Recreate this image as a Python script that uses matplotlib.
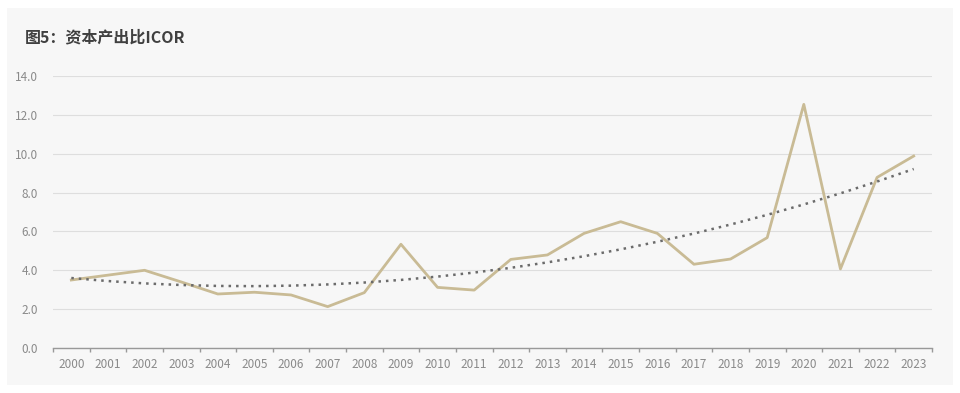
import numpy as np
import matplotlib.pyplot as plt
from matplotlib.patches import Rectangle

# ------------------------------
# DATA
# ------------------------------
years = [str(y) for y in range(2000, 2024)]
icor = [3.50, 3.75, 4.00, 3.40, 2.78, 2.87, 2.73, 2.13, 2.85, 5.34, 3.12, 2.98,
        4.56, 4.79, 5.90, 6.50, 5.90, 4.31, 4.58, 5.68, 12.54, 4.07, 8.78, 9.88]
yticks = [0, 2, 4, 6, 8, 10, 12, 14]

title = '图5：资本产出比ICOR'

# ------------------------------
# STYLE
# ------------------------------
plt.rcParams['font.family'] = ['Noto Sans CJK SC', 'DejaVu Sans']
line_color = '#c9bb95'
trend_color = '#6b6b6b'
grid_color = '#dedede'
tick_color = '#8a8a8a'

x = np.arange(len(years))
# Excel-style second order polynomial trendline
coef = np.polyfit(x, icor, 2)
trend = np.polyval(coef, x)

fig = plt.figure(figsize=(9.6, 3.93), dpi=100)
fig.patch.set_facecolor('white')
panel = Rectangle((7 / 960, 1 - 385 / 393), 946 / 960, 377 / 393,
                  transform=fig.transFigure, facecolor='#f7f7f7',
                  edgecolor='none', zorder=-10)
fig.add_artist(panel)

ax = fig.add_axes([53 / 960, 1 - 348 / 393, 879 / 960, 272 / 393])
ax.set_facecolor('none')

ax.plot(x, icor, color=line_color, linewidth=2.0, zorder=3)
ax.plot(x, trend, color=trend_color, linestyle=(0, (1, 2)), linewidth=1.8, zorder=4)

ax.set_ylim(0, 14)
ax.set_xlim(-0.5, len(years) - 0.5)
ax.set_yticks(yticks)
ax.set_yticklabels([f'{v:.1f}' for v in yticks])
ax.set_xticks(x)
ax.set_xticklabels(years)
ax.set_xticks(np.arange(-0.5, len(years)), minor=True)

ax.yaxis.grid(True, color=grid_color, linewidth=0.8)
ax.set_axisbelow(True)
for side in ['top', 'right', 'left']:
    ax.spines[side].set_visible(False)
ax.spines['bottom'].set_color('#999999')
ax.spines['bottom'].set_linewidth(1.0)

ax.tick_params(axis='y', length=0, labelsize=8.5, labelcolor=tick_color, pad=11)
ax.tick_params(axis='x', which='major', length=0, labelsize=8.5, labelcolor=tick_color, pad=7)
ax.tick_params(axis='x', which='minor', length=3, color='#999999', width=1.0, direction='out')

fig.text(25 / 960, 1 - 37 / 393, title, fontsize=11.5, fontweight='bold',
         color='#404040', va='center', ha='left')

fig.savefig('out.png', dpi=100, facecolor=fig.get_facecolor())
